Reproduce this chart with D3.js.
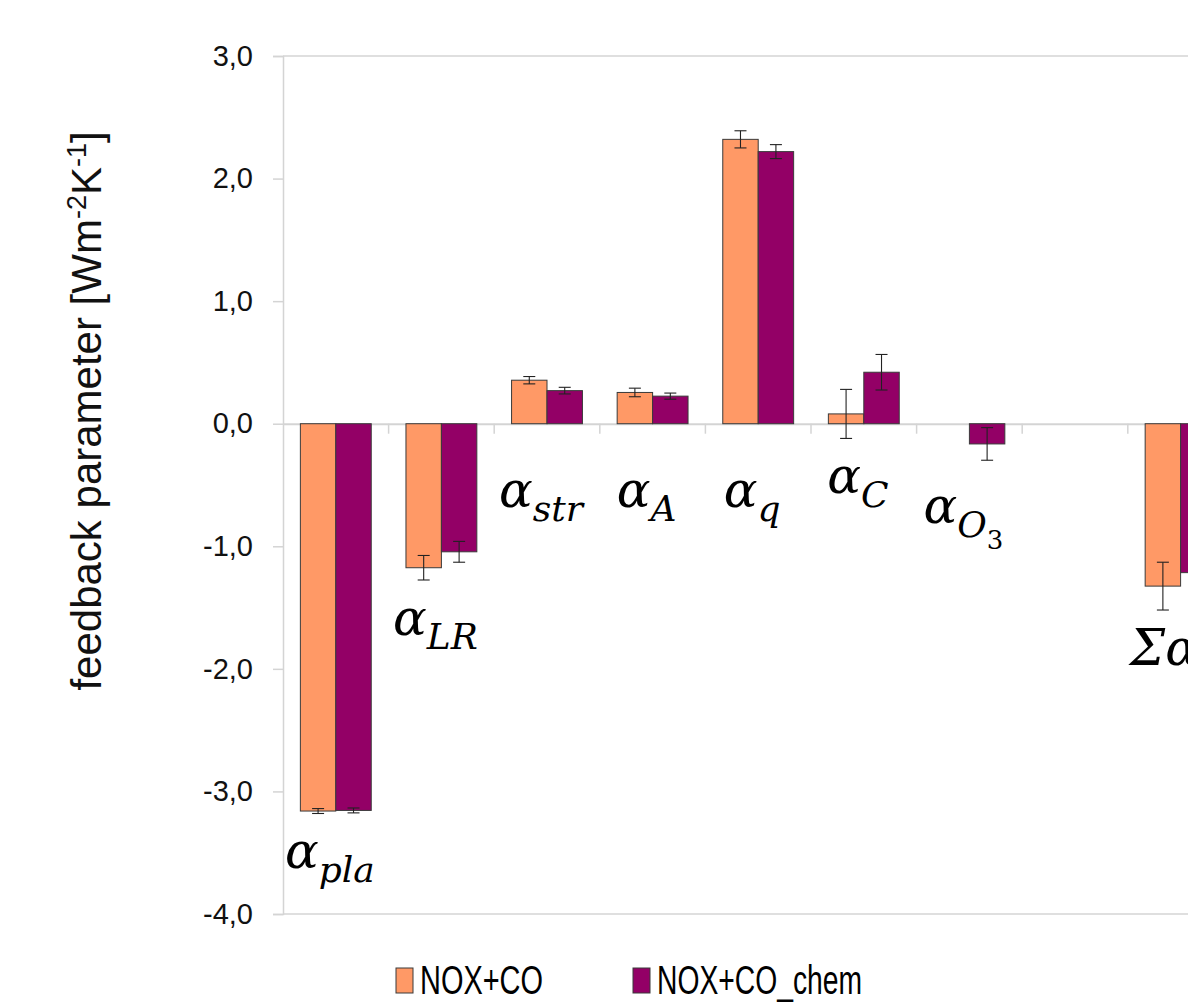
<!DOCTYPE html>
<html>
<head>
<meta charset="utf-8">
<script src="https://cdn.jsdelivr.net/npm/d3@7"></script>
<style>
  body { margin: 0; background: #fff; }
  svg text { font-family: "Liberation Sans", Arial, sans-serif; }
</style>
</head>
<body>
<div class="chart"></div>
<script>
// categories and labels
var categories = ["pla", "LR", "str", "A", "q", "C", "O3", "gap", "sum"];
var labelMain = ["α", "α", "α", "α", "α", "α", "α", "", "Σα"];
var labelSub = ["pla", "LR", "str", "A", "q", "C", "O", "", ""];
var labelSubSub = ["", "", "", "", "", "", "3", "", ""];

// series values (null = no bar)
var seriesNames = ["NOX+CO", "NOX+CO_chem"];
var noxCo = [-3.16, -1.175, 0.355, 0.255, 2.32, 0.08, null, null, -1.325];
var noxCoErr = [0.02, 0.10, 0.03, 0.035, 0.07, 0.20, null, null, 0.195];
var noxCoChem = [-3.155, -1.045, 0.27, 0.225, 2.22, 0.42, -0.165, null, -1.215];
var noxCoChemErr = [0.02, 0.085, 0.027, 0.025, 0.057, 0.145, 0.133, null, 0.15];

var yTicks = [-4, -3, -2, -1, 0, 1, 2, 3];
var colors = ["#FF9966", "#930066"];

var W = 1188, H = 1006;
var svg = d3.select(".chart").append("svg").attr("width", W).attr("height", H);

var plotLeft = 283, plotTop = 56, plotBottom = 914, step = 105.6;

var x = d3.scaleBand().domain(categories).range([plotLeft, plotLeft + step * categories.length]);
var xSub = d3.scaleBand().domain(seriesNames).range([0, x.bandwidth()]).paddingOuter(0.49);
var y = d3.scaleLinear().domain([-4, 3]).range([plotBottom, plotTop]);

var fmt = function(d) { return d3.format(".1f")(d).replace(".", ",").replace("−", "-"); };

// plot frame
var grid = "#d4d4d4";
svg.append("line").attr("x1", plotLeft).attr("x2", W).attr("y1", y(3)).attr("y2", y(3)).attr("stroke", grid).attr("stroke-width", 1.5);
svg.append("line").attr("x1", plotLeft).attr("x2", W).attr("y1", y(-4)).attr("y2", y(-4)).attr("stroke", grid).attr("stroke-width", 1.5);

// y axis
var yAxis = d3.axisLeft(y).tickValues(yTicks).tickSize(10).tickPadding(20).tickFormat(fmt);
var gy = svg.append("g").attr("transform", "translate(" + plotLeft + ",0)").call(yAxis);
gy.select(".domain").attr("stroke", grid).attr("stroke-width", 1.5);
gy.selectAll(".tick line").attr("stroke", grid).attr("stroke-width", 1.5);
gy.selectAll(".tick text").attr("font-size", 29).attr("fill", "#111")
  .attr("font-family", "Liberation Sans, Arial, sans-serif");

// zero line with category ticks
var xAxis = d3.axisBottom(x).tickSize(0).tickFormat("");
var gx = svg.append("g").attr("transform", "translate(0," + y(0) + ")").call(xAxis);
gx.select(".domain").attr("stroke", grid).attr("stroke-width", 2);
svg.append("g").selectAll("line").data(categories.slice(1)).join("line")
  .attr("x1", d => x(d)).attr("x2", d => x(d))
  .attr("y1", y(0)).attr("y2", y(0) + 10)
  .attr("stroke", grid).attr("stroke-width", 1.5);

// bars
var bars = [];
categories.forEach(function(c, i) {
  bars.push({cat: c, s: seriesNames[0], v: noxCo[i], e: noxCoErr[i], color: colors[0]});
  bars.push({cat: c, s: seriesNames[1], v: noxCoChem[i], e: noxCoChemErr[i], color: colors[1]});
});
bars = bars.filter(d => d.v !== null);

svg.append("g").selectAll("rect").data(bars).join("rect")
  .attr("x", d => x(d.cat) + xSub(d.s))
  .attr("width", xSub.bandwidth())
  .attr("y", d => y(Math.max(0, d.v)))
  .attr("height", d => Math.abs(y(d.v) - y(0)))
  .attr("fill", d => d.color)
  .attr("stroke", "#3a3a3a")
  .attr("stroke-width", 1);

// error bars
var eg = svg.append("g").attr("stroke", "#222").attr("stroke-width", 1.1);
bars.forEach(function(d) {
  var cx = x(d.cat) + xSub(d.s) + xSub.bandwidth() / 2;
  eg.append("line").attr("x1", cx).attr("x2", cx).attr("y1", y(d.v + d.e)).attr("y2", y(d.v - d.e));
  eg.append("line").attr("x1", cx - 6).attr("x2", cx + 6).attr("y1", y(d.v + d.e)).attr("y2", y(d.v + d.e));
  eg.append("line").attr("x1", cx - 6).attr("x2", cx + 6).attr("y1", y(d.v - d.e)).attr("y2", y(d.v - d.e));
});

// category labels (math style)
categories.forEach(function(c, i) {
  if (!labelMain[i]) return;
  var lows = [0];
  if (noxCo[i] !== null) lows.push(noxCo[i] - noxCoErr[i]);
  if (noxCoChem[i] !== null) lows.push(noxCoChem[i] - noxCoChemErr[i]);
  var low = d3.min(lows);
  var ly = low < 0 ? y(low) + 55 : y(0) + 83;
  if (labelSubSub[i]) ly += 8;
  var t = svg.append("text")
    .attr("x", x(c) + x.bandwidth() / 2 - 6)
    .attr("y", ly)
    .attr("text-anchor", "middle")
    .style("font-family", "DejaVu Serif, serif")
    .style("font-style", "italic")
    .attr("font-size", 50)
    .attr("fill", "#000");
  t.append("tspan").text(labelMain[i]);
  if (labelSub[i]) t.append("tspan").attr("dy", 14).attr("font-size", 36).text(labelSub[i]);
  if (labelSubSub[i]) t.append("tspan").attr("dy", 12).attr("font-size", 26).style("font-style", "normal").text(labelSubSub[i]);
  if (c === "sum") t.attr("text-anchor", "start").attr("x", x(c) + 2);
});

// y axis title
var yt = svg.append("text")
  .attr("transform", "translate(101," + 411 + ") rotate(-90)")
  .attr("text-anchor", "middle")
  .attr("font-size", 42)
  .attr("fill", "#111");
yt.append("tspan").text("feedback parameter [Wm");
yt.append("tspan").attr("font-size", 27).attr("dy", -15).text("-2");
yt.append("tspan").attr("dy", 15).text("K");
yt.append("tspan").attr("font-size", 27).attr("dy", -15).text("-1");
yt.append("tspan").attr("dy", 15).text("]");

// legend
var legX = [396, 633], legLen = [123, 205];
seriesNames.forEach(function(s, i) {
  var g = svg.append("g");
  g.append("rect").attr("x", legX[i]).attr("y", 968).attr("width", 17).attr("height", 25)
    .attr("fill", colors[i]).attr("stroke", "#3a3a3a").attr("stroke-width", 1);
  g.append("text").attr("x", legX[i] + 24).attr("y", 994)
    .attr("font-size", 41).attr("fill", "#000")
    .attr("textLength", legLen[i]).attr("lengthAdjust", "spacingAndGlyphs")
    .text(s);
});
</script>
</body>
</html>
